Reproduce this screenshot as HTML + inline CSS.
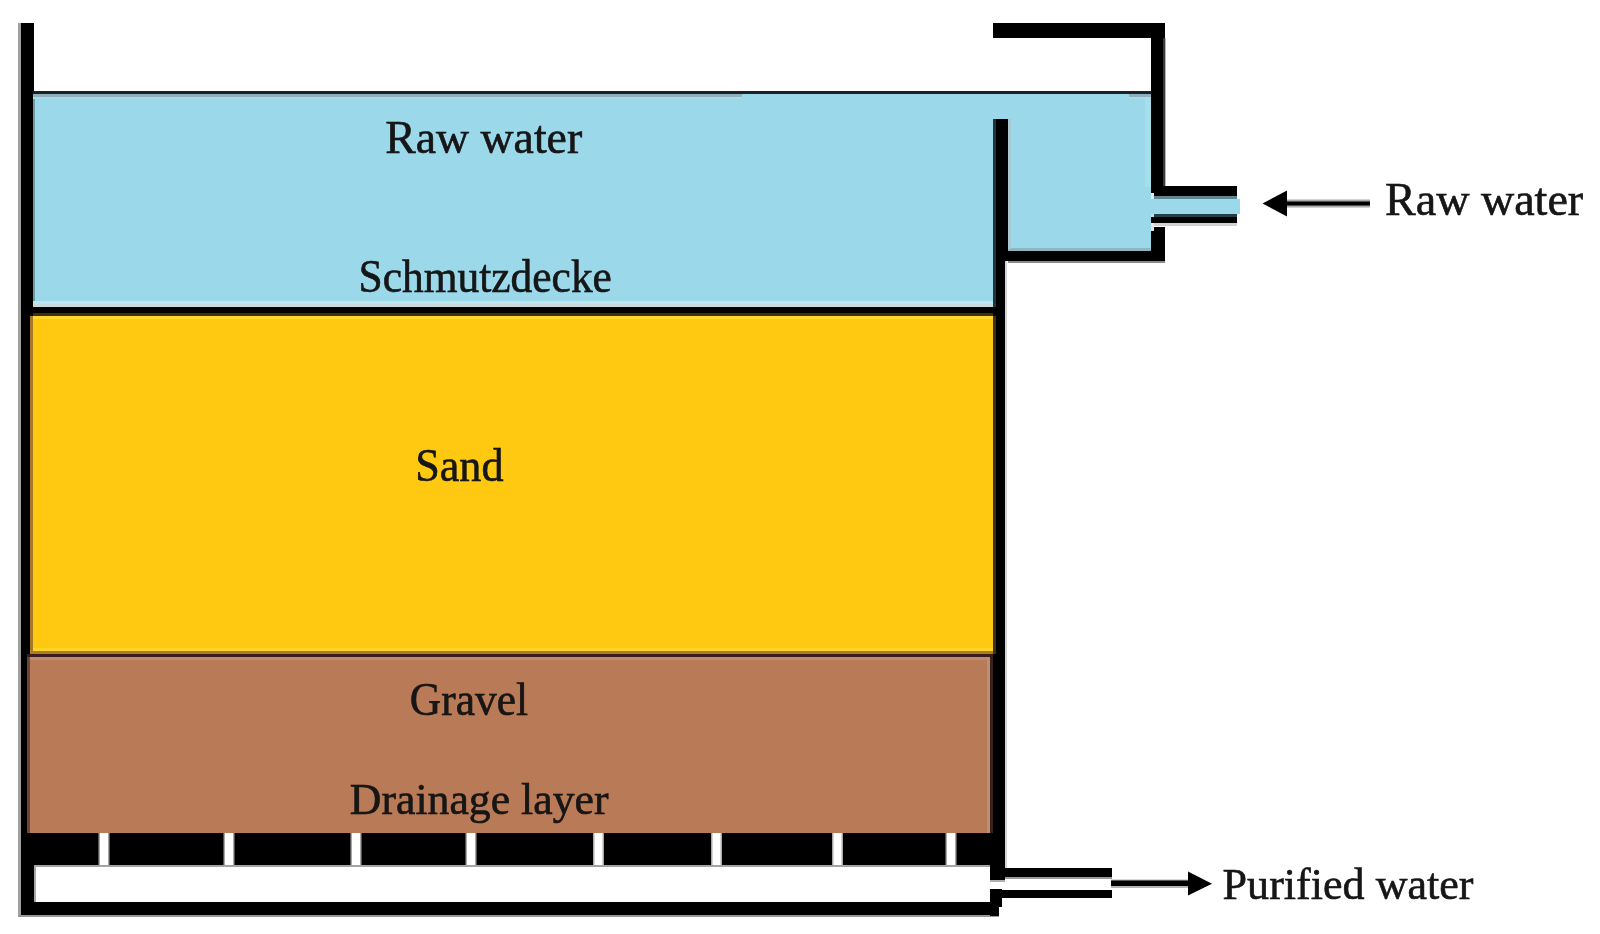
<!DOCTYPE html>
<html><head><meta charset="utf-8"><title>Slow sand filter</title>
<style>
html,body{margin:0;padding:0;background:#fff;width:1600px;height:934px;overflow:hidden}
svg{display:block}
text{font-family:"Liberation Serif",serif;font-size:47px;fill:#141414;stroke:#141414;stroke-width:0.6}
</style></head><body>
<svg width="1600" height="934" viewBox="0 0 1600 934" shape-rendering="crispEdges">
<defs><filter id="soft" x="-5%" y="-20%" width="110%" height="140%"><feGaussianBlur stdDeviation="0.55"/></filter></defs>
<rect x="0" y="0" width="1600" height="934" fill="#fff"/>
<!-- left wall -->
<rect x="18" y="23" width="3" height="893" fill="#a0a0a0"/>
<rect x="21" y="23" width="13" height="893" fill="#000"/>
<!-- right wall -->
<rect x="993" y="119" width="15" height="142" fill="#000"/>
<rect x="993" y="261" width="12" height="396" fill="#000"/>
<rect x="990" y="657" width="15" height="223" fill="#000"/>
<rect x="1005" y="261" width="2" height="607" fill="#d4d4d4"/>
<!-- water main -->
<rect x="33" y="94" width="960" height="209" fill="#9bd9ea"/>
<rect x="33" y="94" width="2" height="209" fill="#6d9aa6"/>

<rect x="33" y="301" width="960" height="3" fill="#bde6ee"/>
<rect x="33" y="304" width="960" height="3" fill="#cad9da"/>
<!-- water in side box -->
<rect x="1008" y="94" width="143" height="155" fill="#9bd9ea"/>
<rect x="990" y="94" width="20" height="25" fill="#9bd9ea"/>
<rect x="1008" y="248" width="143" height="3" fill="#8fb5bf"/>
<rect x="993" y="119" width="3" height="188" fill="#22333a"/>
<rect x="993" y="316" width="3" height="338" fill="#3e3116"/>
<rect x="1008" y="119" width="3" height="130" fill="#a9c8d2"/>
<rect x="33" y="94" width="709" height="3" fill="#8eb0bb"/>
<rect x="33" y="97" width="709" height="2" fill="#a6dcea"/>
<rect x="1129" y="94" width="22" height="3" fill="#8eb0bb"/>
<rect x="1129" y="97" width="22" height="2" fill="#a6dcea"/>
<rect x="1145" y="97" width="6" height="90" fill="#a6dfe9"/>
<!-- water surface line -->
<rect x="33" y="91" width="1118" height="3" fill="#1a2228"/>
<!-- sand/water black line -->
<rect x="21" y="307" width="984" height="9" fill="#000"/>
<rect x="33" y="313" width="960" height="3" fill="#3e3014"/>
<!-- sand -->
<rect x="30" y="316" width="963" height="335" fill="#fec910"/>
<rect x="30" y="316" width="963" height="3" fill="#fed62e"/>
<rect x="30" y="648" width="963" height="3" fill="#fdd42a"/>
<rect x="30" y="316" width="3" height="335" fill="#a27a28"/>

<rect x="30" y="651" width="963" height="3" fill="#ab7d1f"/>
<rect x="27" y="654" width="966" height="3" fill="#3c1a22"/>
<!-- gravel -->
<rect x="27" y="657" width="963" height="176" fill="#b87a57"/>
<rect x="27" y="657" width="963" height="3" fill="#bb8b6e"/>
<rect x="27" y="657" width="3" height="176" fill="#6a4634"/>
<rect x="987" y="657" width="3" height="176" fill="#b98f78"/>
<rect x="990" y="657" width="3" height="176" fill="#3a2218"/>
<!-- drainage blocks -->
<rect x="21" y="833" width="984" height="32" fill="#000"/>
<g shape-rendering="geometricPrecision">
<rect x="98.5" y="833" width="11" height="32" fill="#a8a8a8"/><rect x="100" y="833" width="8" height="33" fill="#fff"/>
<rect x="223.5" y="833" width="11" height="32" fill="#a8a8a8"/><rect x="225" y="833" width="8" height="33" fill="#fff"/>
<rect x="350.5" y="833" width="11" height="32" fill="#a8a8a8"/><rect x="352" y="833" width="8" height="33" fill="#fff"/>
<rect x="465.5" y="833" width="11" height="32" fill="#a8a8a8"/><rect x="467" y="833" width="8" height="33" fill="#fff"/>
<rect x="593.0" y="833" width="11" height="32" fill="#a8a8a8"/><rect x="594.5" y="833" width="8" height="33" fill="#fff"/>
<rect x="711.0" y="833" width="11" height="32" fill="#a8a8a8"/><rect x="712.5" y="833" width="8" height="33" fill="#fff"/>
<rect x="832.0" y="833" width="11" height="32" fill="#a8a8a8"/><rect x="833.5" y="833" width="8" height="33" fill="#fff"/>
<rect x="945.5" y="833" width="11" height="32" fill="#a8a8a8"/><rect x="947" y="833" width="8" height="33" fill="#fff"/>
</g>
<!-- inner bottom white halo -->
<rect x="34" y="865" width="956" height="2" fill="#a4a4a4"/>
<rect x="34" y="866" width="2" height="36" fill="#a8a8a8"/>
<!-- bottom bar -->
<rect x="21" y="902" width="978" height="13" fill="#000"/>
<rect x="18" y="915" width="981" height="2" fill="#999"/>
<!-- step -->
<rect x="990" y="889" width="12" height="18" fill="#000"/>
<rect x="990" y="889" width="9" height="27" fill="#000"/>
<!-- purified pipe -->
<rect x="1005" y="868" width="107" height="9" fill="#000"/>
<rect x="1005" y="877" width="107" height="2" fill="#9a9a9a"/>
<rect x="990" y="880" width="15" height="2" fill="#b0b0b0"/>
<rect x="990" y="890" width="122" height="8" fill="#000"/>
<!-- side box -->
<rect x="993" y="23" width="172" height="15" fill="#000"/>
<rect x="1151" y="23" width="14" height="163" fill="#000"/>
<rect x="1163" y="38" width="2" height="148" fill="#3a3a3a"/>
<rect x="1165" y="38" width="1" height="148" fill="#b8b8b8"/>
<rect x="1151" y="227" width="14" height="35" fill="#000"/>
<rect x="1008" y="251" width="157" height="10" fill="#000"/>
<rect x="1008" y="261" width="157" height="2" fill="#8a8a8a"/>
<!-- raw water pipe -->
<rect x="1151" y="186" width="86" height="10" fill="#000"/>
<rect x="1151" y="196" width="86" height="3" fill="#5d8791"/>
<rect x="1151" y="199" width="89" height="15" fill="#9bd9ea"/>
<rect x="1151" y="214" width="86" height="3" fill="#23404a"/>
<rect x="1151" y="217" width="86" height="6" fill="#000"/>
<rect x="1151" y="223" width="86" height="3" fill="#d2d2d2"/>
<rect x="1151" y="193" width="3" height="6" fill="#d8eef2"/>
<rect x="1151" y="214" width="3" height="3" fill="#c8dde0"/>
<rect x="1151" y="223" width="3" height="8" fill="#e0e8e8"/>
<!-- arrows -->
<g shape-rendering="geometricPrecision">
<rect x="1287" y="199.5" width="83" height="8" fill="#a8a8a8"/>
<rect x="1287" y="201.5" width="83" height="4" fill="#000"/>
<polygon points="1262.5,203.6 1287,190.5 1287,216.5" fill="#000"/>
<rect x="1111" y="879.5" width="78" height="8.5" fill="#b4b4b4"/>
<rect x="1111" y="880.5" width="78" height="5.5" fill="#000"/>
<polygon points="1212,883.8 1188,871.5 1188,895.5" fill="#000"/>
</g>
<!-- labels -->
<g shape-rendering="geometricPrecision" filter="url(#soft)">
<text transform="translate(385.2 153.0) scale(0.9741 1)">Raw water</text>
<text transform="translate(358.6 292.0) scale(0.9244 1)">Schmutzdecke</text>
<text transform="translate(415.2 480.5) scale(0.9396 1)">Sand</text>
<text transform="translate(409.8 715.3) scale(0.9256 0.975)">Gravel</text>
<text transform="translate(349.8 814.5) scale(0.9314 0.96)">Drainage layer</text>
<text transform="translate(1385.0 215.0) scale(0.9801 1)">Raw water</text>
<text transform="translate(1222.6 898.6) scale(0.9380 0.965)">Purified water</text>
</g>
</svg>
</body></html>
